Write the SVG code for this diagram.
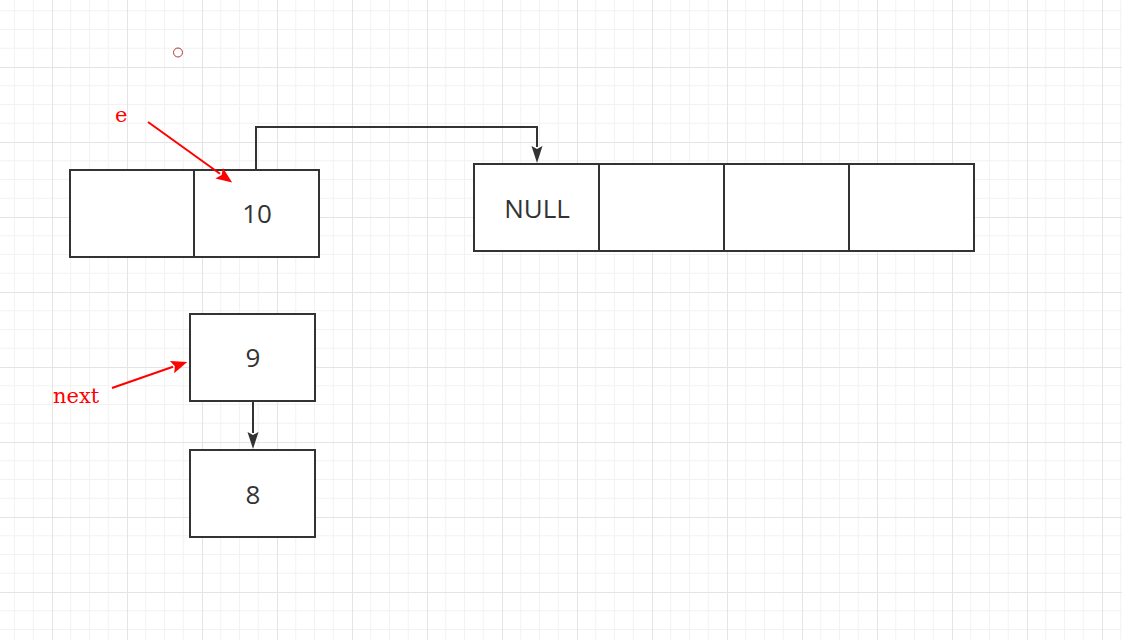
<svg xmlns="http://www.w3.org/2000/svg" width="1122" height="640" viewBox="0 0 1122 640">
  <style>
    .box { fill: #ffffff; stroke: #333333; stroke-width: 2; }
    .div { stroke: #333333; stroke-width: 2; fill: none; }
    .lbl { font-family: "Open Sans", "Noto Sans", sans-serif; font-size: 26px; fill: #333333; text-anchor: middle; }
    .conn { stroke: #333333; stroke-width: 2; fill: none; }
    .red { stroke: #ff0000; stroke-width: 2; fill: none; }
    .rtxt { font-family: "DejaVu Serif", "Liberation Serif", serif; font-size: 21px; fill: #ff0000; }
  </style>
  <defs>
    <pattern id="grid" patternUnits="userSpaceOnUse" x="52" y="67" width="75" height="75">
      <path d="M18.75 0V75M37.5 0V75M56.25 0V75M0 18.75H75M0 37.5H75M0 56.25H75" stroke="#f2f2f2" stroke-width="1" fill="none"/>
      <path d="M0.5 0V75M0 0.5H75" stroke="#e4e4e4" stroke-width="1" fill="none"/>
    </pattern>
    <marker id="arrDark" markerUnits="userSpaceOnUse" markerWidth="17" markerHeight="11" refX="1" refY="5.5" viewBox="0 0 17 11" orient="auto" overflow="visible">
      <path d="M0 0L17 5.5L0 11L3 5.5Z" fill="#333333"/>
    </marker>
    <marker id="arrRed" markerUnits="userSpaceOnUse" markerWidth="16" markerHeight="13" refX="1" refY="6.5" viewBox="0 0 16 13" orient="auto" overflow="visible">
      <path d="M0 0L16 6.5L0 13L3 6.5Z" fill="#ff0000"/>
    </marker>
  </defs>

  <rect x="0" y="0" width="1122" height="640" fill="#ffffff"/>
  <rect x="0" y="0" width="1122" height="640" fill="url(#grid)"/>

  <g id="connectors">
    <path class="conn" d="M256 170V127H537V147" marker-end="url(#arrDark)"/>
    <path class="conn" d="M253 401V433" marker-end="url(#arrDark)"/>
  </g>

  <g id="node-10">
    <rect class="box" x="70" y="170" width="249" height="87"/>
    <path class="div" d="M194 170V257"/>
    <text class="lbl" x="257" y="223">10</text>
  </g>

  <g id="node-null-array">
    <rect class="box" x="474" y="164" width="500" height="87"/>
    <path class="div" d="M599 164V251M724 164V251M849 164V251"/>
    <text class="lbl" x="537" y="218">NULL</text>
  </g>

  <g id="node-9">
    <rect class="box" x="190" y="314" width="125" height="87"/>
    <text class="lbl" x="253" y="367">9</text>
  </g>

  <g id="node-8">
    <rect class="box" x="190" y="450" width="125" height="87"/>
    <text class="lbl" x="253" y="504">8</text>
  </g>

  <g id="pointer-connectors">
    <path class="red" d="M148 122L220 173.8" marker-end="url(#arrRed)"/>
    <path class="red" d="M112 388L173 366.8" marker-end="url(#arrRed)"/>
  </g>

  <g id="label-e">
    <text class="rtxt" x="115" y="122">e</text>
  </g>
  <g id="label-next">
    <text class="rtxt" x="53" y="403">next</text>
  </g>
  <g id="marker-circle">
    <circle cx="178" cy="52.5" r="4.5" fill="none" stroke="#a83a3a" stroke-width="1"/>
  </g>
</svg>
